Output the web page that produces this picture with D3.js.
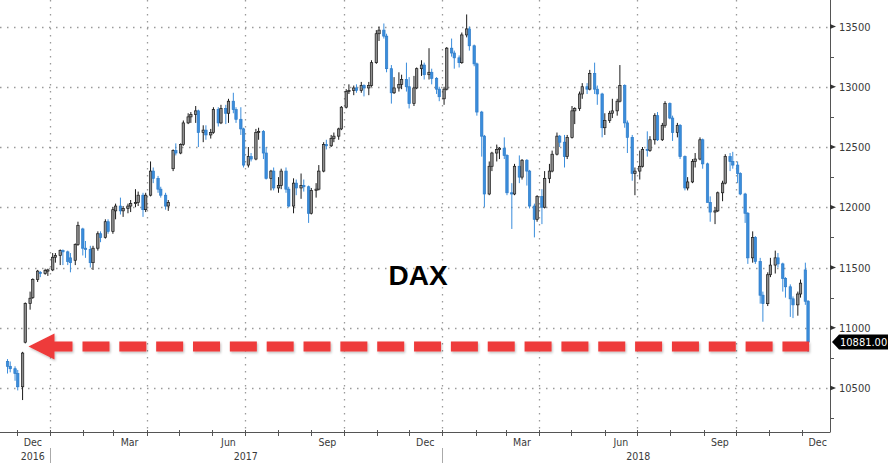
<!DOCTYPE html>
<html>
<head>
<meta charset="utf-8">
<script src="https://cdn.jsdelivr.net/npm/d3@7"></script>
<style>
  html, body { margin: 0; padding: 0; background: #fff; }
  svg { display: block; }
  .ax { font-family: "DejaVu Sans Condensed", "DejaVu Sans", sans-serif; font-stretch: condensed; fill: #3a3a3a; }
</style>
</head>
<body>
<svg id="chart" width="890" height="464"></svg>
<script>
// ---- DATA (half-week OHLC candles, DAX, Nov 2016 - Dec 2018) ----
const firstMonday = "2016-11-21";
const opens = [
 10720,10680,10660,10620,10510,10880,11200,11250,11400,11460,
 11450,11470,11480,11585,11600,11640,11630,11580,11560,11690,
 11820,11660,11650,11540,11660,11780,11750,11880,11800,11970,
 12010,11970,11990,12010,12030,12040,12100,11980,12100,12300,
 12240,12150,12100,12010,12320,12470,12450,12520,12700,12750,
 12770,12800,12620,12640,12600,12620,12810,12700,12820,12780,
 12880,12810,12730,12650,12350,12420,12400,12620,12630,12450,
 12240,12300,12160,12180,12300,12150,12010,12200,12160,12180,
 12170,11950,12140,12150,12300,12520,12510,12570,12590,12650,
 12830,12960,12970,12990,12970,13010,12990,13010,13200,13440,
 13470,13420,13150,12950,12990,13020,13060,13000,12860,12990,
 13150,13180,13100,13120,13070,12980,12900,12980,13320,13280,
 13240,13200,13430,13480,13340,13190,12790,12590,12110,12340,
 12450,12480,12490,12430,12120,12110,12340,12250,12390,12300,
 12010,11900,12090,12000,12240,12300,12440,12590,12540,12420,
 12580,12800,12820,12940,13000,12980,13110,12980,12940,12660,
 12720,12780,12800,12880,13010,12700,12580,12280,12300,12340,
 12480,12470,12560,12760,12560,12680,12860,12740,12620,12680,
 12420,12160,12210,12380,12400,12560,12360,12040,11960,11970,
 12120,12200,12420,12380,12350,12280,12110,11950,11580,11750,
 11550,11270,11200,11440,11520,11580,11530,11410,11340,11240,
 11190,11280,11480,11220
];
const highs = [
 10740,10720,10680,10650,10800,11210,11300,11410,11480,11470,
 11490,11490,11620,11620,11650,11650,11640,11620,11700,11880,
 11830,11720,11680,11680,11800,11800,11900,11900,12000,12030,
 12080,12010,12030,12060,12150,12130,12120,12120,12380,12330,
 12260,12170,12120,12060,12480,12530,12530,12720,12780,12790,
 12840,12810,12680,12680,12650,12830,12830,12850,12850,12900,
 12950,12830,12830,12660,12500,12450,12650,12660,12640,12500,
 12310,12330,12250,12320,12330,12170,12240,12230,12280,12230,
 12180,12160,12200,12350,12540,12560,12600,12620,12660,12840,
 12980,13020,13010,13020,13040,13020,13040,13220,13470,13500,
 13525,13440,13180,13080,13120,13100,13200,13080,13090,13160,
 13220,13200,13320,13150,13080,13000,13000,13330,13400,13300,
 13260,13450,13600,13500,13350,13200,12800,12600,12380,12460,
 12520,12500,12580,12440,12200,12360,12430,12400,12400,12310,
 12030,12100,12150,12300,12360,12470,12620,12600,12600,12600,
 12840,12830,12960,13030,13030,13140,13200,13010,12950,12780,
 12800,12900,12900,13180,13020,12720,12600,12330,12470,12500,
 12630,12590,12780,12790,12700,12880,12870,12760,12700,12690,
 12430,12250,12400,12450,12580,12570,12370,12090,12000,12130,
 12220,12440,12450,12460,12380,12290,12120,11960,11800,11760,
 11580,11300,11460,11580,11640,11620,11540,11420,11360,11260,
 11300,11400,11540,11230
];
const lows = [
 10620,10630,10560,10480,10400,10870,11150,11240,11380,11420,
 11440,11430,11470,11540,11520,11520,11520,11460,11520,11680,
 11600,11580,11500,11480,11640,11710,11740,11780,11780,11900,
 11940,11920,11950,11960,12000,12010,11920,11960,12090,12200,
 12120,12080,11980,11970,12300,12430,12440,12510,12690,12700,
 12700,12500,12540,12560,12570,12610,12670,12690,12690,12700,
 12780,12700,12600,12330,12330,12380,12390,12560,12400,12230,
 12140,12140,12120,12150,12120,12000,11950,12100,12070,12130,
 11870,11940,12080,12140,12290,12480,12500,12540,12560,12640,
 12820,12940,12930,12950,12950,12920,12930,13000,13190,13380,
 13400,13120,12860,12940,12960,12980,12960,12820,12840,12980,
 13090,13060,13060,13020,12940,12880,12850,12970,13250,13150,
 13160,13190,13410,13300,13170,12760,12420,12000,12100,12300,
 12380,12400,12400,12100,11820,12100,12200,12230,12180,11990,
 11750,11880,11860,11990,12200,12290,12430,12500,12330,12400,
 12570,12690,12800,12900,12940,12970,12940,12850,12580,12600,
 12700,12740,12760,12870,12660,12450,12220,12100,12230,12330,
 12420,12460,12520,12550,12550,12660,12730,12550,12580,12400,
 12140,12140,12200,12330,12390,12320,12040,11880,11860,11960,
 12050,12190,12300,12320,12200,12100,11870,11530,11540,11530,
 11200,11050,11180,11420,11450,11500,11300,11250,11090,11080,
 11100,11250,11190,10800
];
const closes = [
 10680,10660,10620,10510,10790,11200,11245,11400,11470,11450,
 11475,11480,11585,11600,11640,11630,11550,11540,11690,11850,
 11660,11650,11540,11660,11780,11750,11880,11800,11980,12010,
 11970,11990,12010,12030,12040,12100,11980,12100,12300,12240,
 12150,12100,12010,12040,12470,12450,12520,12700,12750,12770,
 12800,12620,12640,12600,12620,12810,12700,12820,12780,12880,
 12810,12730,12650,12350,12420,12400,12620,12630,12450,12240,
 12300,12160,12180,12300,12150,12010,12200,12160,12180,12170,
 11950,12140,12150,12300,12520,12510,12570,12590,12650,12830,
 12960,12970,12990,12970,13010,12990,13010,13200,13440,13470,
 13420,13150,12950,12990,13020,13060,13000,12860,12990,13150,
 13180,13100,13120,13070,12980,12917,12980,13320,13280,13240,
 13200,13430,13480,13340,13190,12790,12590,12110,12340,12450,
 12480,12490,12430,12120,12110,12340,12250,12390,12300,12010,
 11900,12090,12000,12240,12300,12440,12590,12540,12420,12580,
 12800,12820,12940,13000,12980,13110,12980,12940,12660,12720,
 12780,12800,12880,13010,12700,12580,12280,12300,12340,12480,
 12470,12560,12760,12560,12680,12860,12740,12620,12680,12420,
 12160,12210,12380,12400,12560,12360,12040,11960,11970,12120,
 12200,12420,12380,12350,12280,12110,11950,11580,11750,11550,
 11270,11200,11440,11520,11580,11530,11410,11340,11240,11190,
 11280,11370,11220,10881
];
const yTicks = [10500, 11000, 11500, 12000, 12500, 13000, 13500];
const monthLabels = ["Dec", "Mar", "Jun", "Sep"];
const yearLabels = ["2016", "2017", "2018"];
const title = "DAX";
const lastPriceLabel = "10881.00";
const arrowLevel = 10845;

// ---- SETUP ----
const W = 890, H = 464;
const plotRight = 830, axisY = 432;
const svg = d3.select("#chart");

const parse = d3.timeParse("%Y-%m-%d");
const monday0 = parse(firstMonday);
const n = closes.length;
const candles = d3.range(n).map(i => {
  const d = d3.timeDay.offset(monday0, 7 * Math.floor(i / 2) + (i % 2 ? 3 : 0));
  return {
    date: d3.timeHour.offset(d, i % 2 ? 24 : 36),
    o: opens[i], h: highs[i], l: lows[i], c: closes[i]
  };
});

const x = d3.scaleTime()
  .domain([new Date(2016, 10, 15, 12), new Date(2018, 11, 27, 10)])
  .range([0, plotRight]);
const y = d3.scaleLinear().domain([10500, 13500]).range([388, 26.5]);

// ---- GRID ----
const grid = svg.append("g");
grid.selectAll("line.h").data(yTicks).join("line")
  .attr("x1", 0).attr("x2", plotRight)
  .attr("y1", d => Math.round(y(d)) + 0.5).attr("y2", d => Math.round(y(d)) + 0.5)
  .attr("stroke", "#9a9a9a").attr("stroke-width", 1.3)
  .attr("stroke-dasharray", "1.5,5.5");
const quarters = d3.timeMonth.every(3).range(x.domain()[0], x.domain()[1]);
grid.selectAll("line.v").data(quarters).join("line")
  .attr("x1", d => Math.round(x(d)) + 0.5).attr("x2", d => Math.round(x(d)) + 0.5)
  .attr("y1", 0).attr("y2", axisY)
  .attr("stroke", "#9a9a9a").attr("stroke-width", 1.3)
  .attr("stroke-dasharray", "1.5,5.5");

// ---- CANDLES ----
const cw = 2.4;
const blue = "#3a8ddc";
const cg = svg.append("g");
cg.selectAll("line.wick").data(candles).join("line")
  .attr("x1", d => x(d.date)).attr("x2", d => x(d.date))
  .attr("y1", d => y(d.h)).attr("y2", d => y(d.l))
  .attr("stroke", d => d.c < d.o ? blue : "#1a1a1a").attr("stroke-width", 1);
cg.selectAll("rect").data(candles).join("rect")
  .attr("x", d => x(d.date) - cw / 2)
  .attr("width", cw)
  .attr("y", d => y(Math.max(d.o, d.c)))
  .attr("height", d => Math.max(1, Math.abs(y(d.o) - y(d.c))))
  .attr("fill", d => d.c < d.o ? blue : "#8e8e8e")
  .attr("stroke", d => d.c < d.o ? "#2f7cc8" : "#1a1a1a")
  .attr("stroke-width", 0.7);

// ---- RED ARROW ----
const ay = y(arrowLevel);
const tipX = x(new Date(2016, 11, 12));
const endX = x(new Date(2018, 11, 8));
const arrow = svg.append("g");
const defs = svg.append("defs");
const f = defs.append("filter").attr("id", "sh").attr("x", "-10%").attr("y", "-50%").attr("width", "120%").attr("height", "200%");
f.append("feDropShadow").attr("dx", 1).attr("dy", 1.5).attr("stdDeviation", 1.2).attr("flood-color", "#000").attr("flood-opacity", 0.25);
arrow.attr("filter", "url(#sh)");
arrow.append("path")
  .attr("d", `M${tipX},${ay} L${tipX + 26},${ay - 13} L${tipX + 26},${ay - 5} L${tipX + 44},${ay - 5} L${tipX + 44},${ay + 5} L${tipX + 26},${ay + 5} L${tipX + 26},${ay + 13} Z`)
  .attr("fill", "#ee3b3b");
arrow.append("line")
  .attr("x1", tipX + 54).attr("x2", endX)
  .attr("y1", ay).attr("y2", ay)
  .attr("stroke", "#ee3b3b").attr("stroke-width", 10)
  .attr("stroke-dasharray", "27,9.84");

// ---- TITLE ----
svg.append("text")
  .attr("x", 418).attr("y", 285)
  .attr("text-anchor", "middle")
  .attr("font-family", "Liberation Sans, Arial, sans-serif")
  .attr("font-weight", "bold").attr("font-size", 28)
  .attr("fill", "#000").text(title);

// ---- RIGHT AXIS ----
const ra = svg.append("g");
ra.append("line").attr("x1", plotRight + 0.5).attr("x2", plotRight + 0.5)
  .attr("y1", 0).attr("y2", axisY).attr("stroke", "#555").attr("stroke-width", 1);
const minor = d3.range(10250, 13751, 500);
ra.selectAll("line.mn").data(minor).join("line")
  .attr("x1", plotRight).attr("x2", plotRight + 4)
  .attr("y1", d => Math.round(y(d)) + 0.5).attr("y2", d => Math.round(y(d)) + 0.5)
  .attr("stroke", "#555");
ra.selectAll("path.tk").data(yTicks).join("path")
  .attr("d", d => { const yy = y(d); return `M${plotRight},${yy - 2.5} L${plotRight + 6},${yy} L${plotRight},${yy + 2.5} Z`; })
  .attr("fill", "#333");
ra.selectAll("text").data(yTicks).join("text")
  .attr("class", "ax")
  .attr("x", plotRight + 9).attr("y", d => y(d) + 4)
  .attr("font-size", 11).text(d => d);

// last price label
const ly = y(closes[n - 1]);
ra.append("path")
  .attr("d", `M${plotRight + 2},${ly} L${plotRight + 9},${ly - 7.5} L888,${ly - 7.5} L888,${ly + 7.5} L${plotRight + 9},${ly + 7.5} Z`)
  .attr("fill", "#000");
ra.append("text").attr("class", "ax")
  .attr("x", plotRight + 10).attr("y", ly + 4)
  .attr("font-size", 11).style("fill", "#fff").text(lastPriceLabel);

// ---- BOTTOM AXIS ----
const ba = svg.append("g");
ba.append("line").attr("x1", 0).attr("x2", plotRight + 0.5)
  .attr("y1", axisY + 0.5).attr("y2", axisY + 0.5).attr("stroke", "#555");
const months = d3.timeMonth.range(x.domain()[0], x.domain()[1]);
ba.selectAll("line.mt").data(months).join("line")
  .attr("x1", d => Math.round(x(d)) + 0.5).attr("x2", d => Math.round(x(d)) + 0.5)
  .attr("y1", axisY - 2).attr("y2", axisY + 4)
  .attr("stroke", "#555");
const shortMonth = d3.timeFormat("%b");
const labMonths = months.filter(m => monthLabels.includes(shortMonth(m)));
ba.selectAll("text.m").data(labMonths).join("text")
  .attr("class", "ax")
  .attr("x", d => x(d3.timeDay.offset(d, 15)))
  .attr("y", 446).attr("text-anchor", "middle")
  .attr("font-size", 10.5).text(d => shortMonth(d));
const yearCenters = [new Date(2016, 11, 16), new Date(2017, 6, 2), new Date(2018, 6, 2)];
ba.selectAll("text.yr").data(yearLabels).join("text")
  .attr("class", "ax")
  .attr("x", (d, i) => x(yearCenters[i]))
  .attr("y", 460).attr("text-anchor", "middle")
  .attr("font-size", 10.5).text(d => d);
const yearStarts = [new Date(2017, 0, 1), new Date(2018, 0, 1)];
ba.selectAll("line.ys").data(yearStarts).join("line")
  .attr("x1", d => Math.round(x(d)) + 0.5).attr("x2", d => Math.round(x(d)) + 0.5)
  .attr("y1", 448).attr("y2", 463).attr("stroke", "#aaa");
</script>
</body>
</html>
